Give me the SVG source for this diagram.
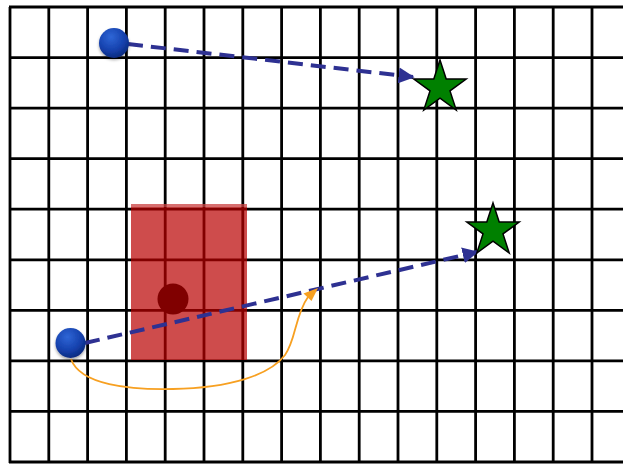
<svg xmlns="http://www.w3.org/2000/svg" width="623" height="464" viewBox="0 0 623 464">
<style>
.grid line{stroke:#000;stroke-width:2.8}
.dash{stroke:#2e3192;stroke-width:4;stroke-dasharray:15 8;fill:none}
.star{fill:#008000;stroke:#000;stroke-width:1.5;stroke-linejoin:miter}
</style>
<defs>
<radialGradient id="ball" cx="0.4" cy="0.3" r="0.75">
<stop offset="0" stop-color="#2f66d6"/>
<stop offset="0.6" stop-color="#1541ad"/>
<stop offset="1" stop-color="#0a2778"/>
</radialGradient>
<filter id="sh" x="-30%" y="-30%" width="160%" height="160%">
<feDropShadow dx="0" dy="2" stdDeviation="1.5" flood-opacity="0.35"/>
</filter>
<marker id="ah" viewBox="0 0 10 10" refX="9" refY="5" markerWidth="4" markerHeight="4" markerUnits="strokeWidth" orient="auto">
<path d="M0,0 L10,5 L0,10 z" fill="#2e3192"/>
</marker>
</defs>
<rect width="623" height="464" fill="#fff"/>
<g class="grid">
<line x1="10" y1="7" x2="10" y2="463"/>
<line x1="48.8" y1="7" x2="48.8" y2="463"/>
<line x1="87.6" y1="7" x2="87.6" y2="463"/>
<line x1="126.4" y1="7" x2="126.4" y2="463"/>
<line x1="165.2" y1="7" x2="165.2" y2="463"/>
<line x1="204" y1="7" x2="204" y2="463"/>
<line x1="242.8" y1="7" x2="242.8" y2="463"/>
<line x1="281.6" y1="7" x2="281.6" y2="463"/>
<line x1="320.4" y1="7" x2="320.4" y2="463"/>
<line x1="359.2" y1="7" x2="359.2" y2="463"/>
<line x1="398" y1="7" x2="398" y2="463"/>
<line x1="436.8" y1="7" x2="436.8" y2="463"/>
<line x1="475.6" y1="7" x2="475.6" y2="463"/>
<line x1="514.4" y1="7" x2="514.4" y2="463"/>
<line x1="553.2" y1="7" x2="553.2" y2="463"/>
<line x1="592" y1="7" x2="592" y2="463"/>
<line x1="9" y1="7" x2="623" y2="7"/>
<line x1="9" y1="57.6" x2="623" y2="57.6"/>
<line x1="9" y1="108.1" x2="623" y2="108.1"/>
<line x1="9" y1="158.7" x2="623" y2="158.7"/>
<line x1="9" y1="209.2" x2="623" y2="209.2"/>
<line x1="9" y1="259.8" x2="623" y2="259.8"/>
<line x1="9" y1="310.3" x2="623" y2="310.3"/>
<line x1="9" y1="360.9" x2="623" y2="360.9"/>
<line x1="9" y1="411.4" x2="623" y2="411.4"/>
<line x1="9" y1="462" x2="623" y2="462"/>
</g>
<g id="obstacle">
<rect x="131" y="204" width="116" height="156" fill="#b90000" fill-opacity="0.7"/>
<rect x="131" y="204" width="116" height="3" fill="#fff" fill-opacity="0.2"/>
<circle cx="173" cy="299" r="15.5" fill="#800000"/>
</g>
<g id="connectors">
<line class="dash" x1="128" y1="44" x2="413" y2="77" marker-end="url(#ah)"/>
<line class="dash" x1="85" y1="343" x2="477" y2="252" marker-end="url(#ah)"/>
<path d="M71,359 C80,385 130,390 173,389 C230,388 270,375 285,355 C296,340 295,315 308,297" fill="none" stroke="#f7a021" stroke-width="1.8"/>
<polygon points="318,288 311.5,301 303.5,293.5" fill="#f7a021"/>
</g>
<g id="ball1"><circle cx="114" cy="43" r="15" fill="url(#ball)" filter="url(#sh)"/></g>
<g id="ball2"><circle cx="70.5" cy="343" r="15" fill="url(#ball)" filter="url(#sh)"/></g>
<g id="star1"><polygon class="star" points="440,60 446.2,79.1 466.2,79.1 450,90.9 456.2,110 440,98.2 423.8,110 430,90.9 413.8,79.1 433.8,79.1"/></g>
<g id="star2"><polygon class="star" points="493,203 499.2,222.1 519.2,222.1 503,233.9 509.2,253 493,241.2 476.8,253 483,233.9 466.8,222.1 486.8,222.1"/></g>
</svg>
